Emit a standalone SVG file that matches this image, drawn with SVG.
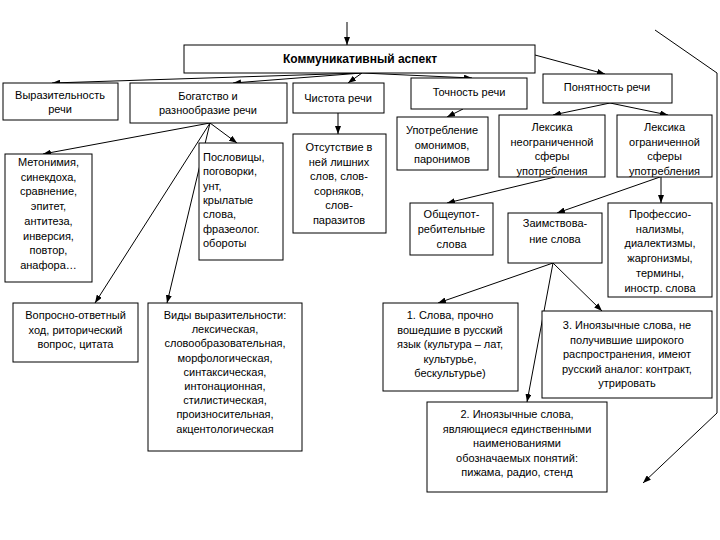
<svg xmlns="http://www.w3.org/2000/svg" width="720" height="540" viewBox="0 0 720 540">
<defs>
<marker id="a" markerWidth="8" markerHeight="6" refX="8" refY="3" orient="auto" markerUnits="userSpaceOnUse"><path d="M0,0 L8,3 L0,6 z" fill="#000"/></marker>
<style>
.b{fill:#fff;stroke:#000;stroke-width:1}
.t{font-family:"Liberation Sans",Arial,sans-serif;font-size:11px;fill:#000;text-anchor:middle}
.l{text-anchor:start}
.c{stroke:#000;stroke-width:1;fill:none;marker-end:url(#a)}
</style>
</defs>
<rect width="720" height="540" fill="#fff"/>
<g id="connectors">
<line class="c" x1="347" y1="22" x2="347" y2="45"/>
<line class="c" x1="362" y1="73" x2="52" y2="83"/>
<line class="c" x1="362" y1="73" x2="233" y2="83"/>
<line class="c" x1="362" y1="73" x2="348" y2="83"/>
<line class="c" x1="362" y1="73" x2="472" y2="78"/>
<line class="c" x1="535" y1="55" x2="605" y2="74"/>
<polyline class="c" points="655,30 717,73 717,413 643,483"/>
<line class="c" x1="338" y1="113" x2="338" y2="134"/>
<line class="c" x1="463" y1="109" x2="447" y2="117"/>
<line class="c" x1="610" y1="103" x2="553" y2="115"/>
<line class="c" x1="610" y1="103" x2="668" y2="115"/>
<line class="c" x1="210" y1="123" x2="43" y2="154"/>
<line class="c" x1="210" y1="123" x2="237" y2="143"/>
<line class="c" x1="210" y1="123" x2="95" y2="303"/>
<line class="c" x1="210" y1="123" x2="167" y2="303"/>
<line class="c" x1="555" y1="177" x2="447" y2="203"/>
<line class="c" x1="660" y1="177" x2="557" y2="213"/>
<line class="c" x1="661" y1="177" x2="661" y2="203"/>
<line class="c" x1="553" y1="263" x2="438" y2="303"/>
<line class="c" x1="553" y1="263" x2="527" y2="402"/>
<line class="c" x1="553" y1="263" x2="602" y2="311"/>
</g>
<g id="main"><rect class="b" x="184" y="45" width="351" height="28"/><text class="t" x="360" y="63" style="font-weight:bold;font-size:12px">Коммуникативный аспект</text></g>
<g id="vyr"><rect class="b" x="3" y="83" width="115" height="37"/><text class="t" x="60" y="99"><tspan x="60">Выразительность</tspan><tspan x="60" dy="14">речи</tspan></text></g>
<g id="bog"><rect class="b" x="130" y="83" width="157" height="40"/><text class="t" x="208" y="100"><tspan x="208">Богатство и</tspan><tspan x="208" dy="14">разнообразие речи</tspan></text></g>
<g id="chist"><rect class="b" x="293" y="83" width="91" height="30"/><text class="t" x="338" y="102">Чистота речи</text></g>
<g id="toch"><rect class="b" x="411" y="78" width="116" height="31"/><text class="t" x="469" y="96">Точность речи</text></g>
<g id="pon"><rect class="b" x="543" y="74" width="129" height="29"/><text class="t" x="607" y="91">Понятность речи</text></g>
<g id="otsut"><rect class="b" x="293" y="134" width="93" height="99"/><text class="t" x="339" y="151"><tspan x="339">Отсутствие в</tspan><tspan x="339" dy="14.5">ней лишних</tspan><tspan x="339" dy="14.5">слов, слов-</tspan><tspan x="339" dy="14.5">сорняков,</tspan><tspan x="339" dy="14.5">слов-</tspan><tspan x="339" dy="14.5">паразитов</tspan></text></g>
<g id="upotr"><rect class="b" x="397" y="117" width="91" height="53"/><text class="t" x="442" y="134"><tspan x="442">Употребление</tspan><tspan x="442" dy="14.5">омонимов,</tspan><tspan x="442" dy="14.5">паронимов</tspan></text></g>
<g id="leks1"><rect class="b" x="499" y="115" width="106" height="62"/><text class="t" x="552" y="131"><tspan x="552">Лексика</tspan><tspan x="552" dy="14.5">неограниченной</tspan><tspan x="552" dy="14.5">сферы</tspan><tspan x="552" dy="14.5">употребления</tspan></text></g>
<g id="leks2"><rect class="b" x="617" y="115" width="95" height="62"/><text class="t" x="664.5" y="131"><tspan x="664.5">Лексика</tspan><tspan x="664.5" dy="14.5">ограниченной</tspan><tspan x="664.5" dy="14.5">сферы</tspan><tspan x="664.5" dy="14.5">употребления</tspan></text></g>
<g id="meton"><rect class="b" x="5" y="154" width="87" height="128"/><text class="t" x="48.5" y="166"><tspan x="48.5">Метонимия,</tspan><tspan x="48.5" dy="14.7">синекдоха,</tspan><tspan x="48.5" dy="14.7">сравнение,</tspan><tspan x="48.5" dy="14.7">эпитет,</tspan><tspan x="48.5" dy="14.7">антитеза,</tspan><tspan x="48.5" dy="14.7">инверсия,</tspan><tspan x="48.5" dy="14.7">повтор,</tspan><tspan x="48.5" dy="14.7">анафора…</tspan></text></g>
<g id="posl"><rect class="b" x="199" y="143" width="84" height="117"/><text class="t l" x="203" y="161"><tspan x="203">Пословицы,</tspan><tspan x="203" dy="14.3">поговорки,</tspan><tspan x="203" dy="14.3">унт,</tspan><tspan x="203" dy="14.3">крылатые</tspan><tspan x="203" dy="14.3">слова,</tspan><tspan x="203" dy="14.3">фразеолог.</tspan><tspan x="203" dy="14.3">обороты</tspan></text></g>
<g id="obsh"><rect class="b" x="410" y="203" width="83" height="52"/><text class="t" x="451.5" y="218"><tspan x="451.5">Общеупот-</tspan><tspan x="451.5" dy="15">ребительные</tspan><tspan x="451.5" dy="15">слова</tspan></text></g>
<g id="zaim"><rect class="b" x="508" y="213" width="94" height="50"/><text class="t" x="555" y="227"><tspan x="555">Заимствова-</tspan><tspan x="555" dy="16">ние слова</tspan></text></g>
<g id="prof"><rect class="b" x="608" y="203" width="104" height="94"/><text class="t" x="660" y="218"><tspan x="660">Профессио-</tspan><tspan x="660" dy="14.7">нализмы,</tspan><tspan x="660" dy="14.7">диалектизмы,</tspan><tspan x="660" dy="14.7">жаргонизмы,</tspan><tspan x="660" dy="14.7">термины,</tspan><tspan x="660" dy="14.7">иностр. слова</tspan></text></g>
<g id="vopr"><rect class="b" x="13" y="303" width="125" height="59"/><text class="t" x="75.5" y="319"><tspan x="75.5">Вопросно-ответный</tspan><tspan x="75.5" dy="14.5">ход, риторический</tspan><tspan x="75.5" dy="14.5">вопрос, цитата</tspan></text></g>
<g id="vidy"><rect class="b" x="148" y="303" width="154" height="148"/><text class="t" x="225" y="319"><tspan x="225">Виды выразительности:</tspan><tspan x="225" dy="14.2">лексическая,</tspan><tspan x="225" dy="14.2">словообразовательная,</tspan><tspan x="225" dy="14.2">морфологическая,</tspan><tspan x="225" dy="14.2">синтаксическая,</tspan><tspan x="225" dy="14.2">интонационная,</tspan><tspan x="225" dy="14.2">стилистическая,</tspan><tspan x="225" dy="14.2">произносительная,</tspan><tspan x="225" dy="14.2">акцентологическая</tspan></text></g>
<g id="box1"><rect class="b" x="383" y="303" width="135" height="88"/><text class="t" x="450" y="319"><tspan x="450">1. Слова, прочно</tspan><tspan x="450" dy="14.5">вошедшие в русский</tspan><tspan x="450" dy="14.5">язык (культура – лат,</tspan><tspan x="450" dy="14.5">культурье,</tspan><tspan x="450" dy="14.5">бескультурье)</tspan></text></g>
<g id="box3"><rect class="b" x="542" y="311" width="170" height="87"/><text class="t" x="627" y="329"><tspan x="627">3. Иноязычные слова, не</tspan><tspan x="627" dy="14.5">получившие широкого</tspan><tspan x="627" dy="14.5">распространения, имеют</tspan><tspan x="627" dy="14.5">русский аналог: контракт,</tspan><tspan x="627" dy="14.5">утрировать</tspan></text></g>
<g id="box2"><rect class="b" x="427" y="402" width="180" height="90"/><text class="t" x="517" y="418"><tspan x="517">2. Иноязычные слова,</tspan><tspan x="517" dy="14.5">являющиеся единственными</tspan><tspan x="517" dy="14.5">наименованиями</tspan><tspan x="517" dy="14.5">обозначаемых понятий:</tspan><tspan x="517" dy="14.5">пижама, радио, стенд</tspan></text></g>
</svg>
